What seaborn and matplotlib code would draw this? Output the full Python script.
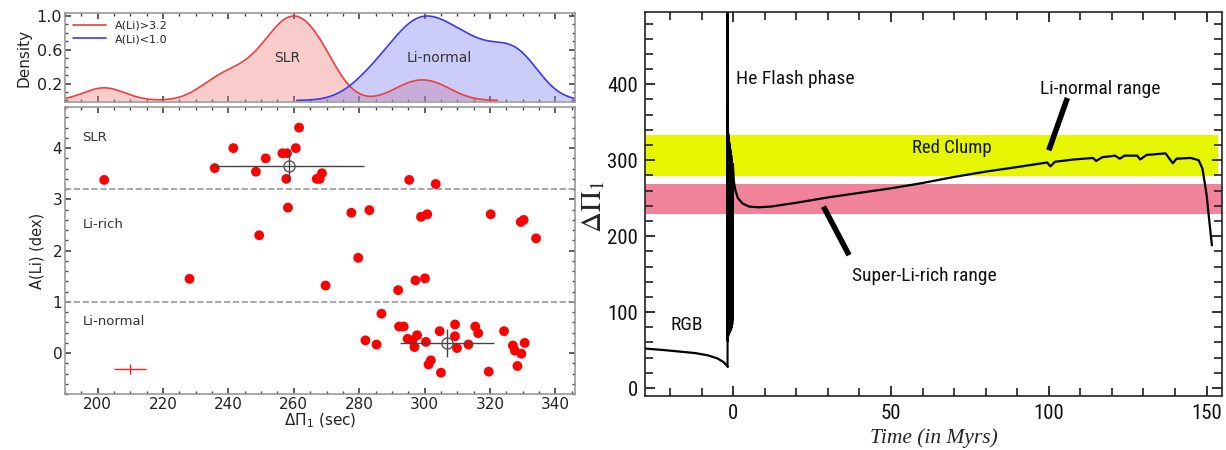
import numpy as np
import matplotlib
matplotlib.use("Agg")
import matplotlib.pyplot as plt
import seaborn as sns
from matplotlib.ticker import MultipleLocator

# ---- left panel data: Delta Pi_1 (sec) vs A(Li) (dex) ----
slr_dp = [202.0, 235.8, 241.5, 248.4, 251.4, 256.5, 257.9, 257.7, 260.6, 261.6,
          267.0, 267.9, 268.6, 295.3, 303.4]
slr_ali = [3.38, 3.61, 4.00, 3.54, 3.80, 3.90, 3.90, 3.40, 4.00, 4.40,
           3.40, 3.40, 3.51, 3.38, 3.30]
rich_dp = [258.2, 249.4, 228.1, 269.7, 277.6, 283.1, 279.7, 298.9, 300.8, 297.2,
           300.1, 291.9, 320.2, 329.4, 330.3, 334.1]
rich_ali = [2.84, 2.30, 1.45, 1.32, 2.74, 2.79, 1.86, 2.66, 2.71, 1.42,
            1.46, 1.23, 2.71, 2.56, 2.60, 2.24]
norm_dp = [286.8, 281.9, 285.3, 292.2, 293.6, 294.8, 297.7, 296.9, 296.3, 300.4,
           301.9, 301.2, 304.6, 305.0, 309.3, 309.3, 309.9, 313.4, 315.5, 316.4,
           319.6, 324.3, 327.0, 327.6, 328.4, 329.6, 330.6]
norm_ali = [0.77, 0.25, 0.17, 0.52, 0.52, 0.28, 0.35, 0.12, 0.25, 0.22,
            -0.14, -0.22, 0.43, -0.38, 0.56, 0.33, 0.10, 0.17, 0.52, 0.39,
            -0.36, 0.43, 0.15, 0.05, -0.25, -0.01, 0.20]

mean_dp = [258.5, 306.9]
mean_ali = [3.66, 0.20]
mean_dp_err = [23.0, 14.3]
mean_ali_err = [0.30, 0.28]

typ_dp, typ_ali = [210.0], [-0.31]
typ_dp_err, typ_ali_err = [4.9], [0.10]

# ---- right panel data: period spacing along the evolution track ----
rgb_t = [-28, -22, -17, -12, -8, -5, -3, -1.7]
rgb_p = [52, 50, 48, 46, 43, 39, 34, 28]
flash_t = [-1.8, -1.8, -1.74, -1.68, -1.62, -1.56, -1.5, -1.44, -1.38, -1.32, -1.26,
           -1.2, -1.14, -1.08, -1.02, -0.96, -0.9, -0.84, -0.78, -0.72, -0.66, -0.6,
           -0.54, -0.48, -0.42, -0.36, -0.3, -0.24, -0.18, -0.12]
flash_p = [28, 530, 62, 372, 68, 335, 70, 330, 72, 325, 72, 322, 74, 318, 74,
           315, 76, 312, 76, 310, 78, 306, 80, 300, 82, 296, 84, 290, 90, 295]
core_t = [-0.12, 0.2, 0.7, 1.5, 3, 5, 8, 12, 20, 30, 40, 50, 60, 70, 80, 90,
          99.5, 100.5, 102, 108, 114, 115, 117, 121, 122.5, 124, 128, 129, 131,
          137, 139.3, 140.5, 145, 147.5, 148.7, 150, 151, 151.7]
core_p = [295, 272, 260, 250, 243, 239, 238, 239, 244, 251, 257, 263, 270, 278,
          285, 291, 297, 292, 298, 301, 303, 299, 304, 306, 302, 306, 306, 301,
          307, 309, 296, 302, 303, 300, 289, 255, 215, 188]

red_clump = (279.5, 333.0)
super_li = (229.0, 269.0)


def peak_kde(vals, bw):
    vals = np.asarray(vals)
    grid = np.linspace(vals.min() - 3 * bw, vals.max() + 3 * bw, 500)
    dens = np.exp(-0.5 * ((grid[:, None] - vals[None, :]) / bw) ** 2).sum(axis=1)
    return grid, dens / dens.max()


sns.set_theme(style="ticks")
plt.rcParams["font.family"] = ["DejaVu Sans"]

fig = plt.figure(figsize=(12.26, 4.5), dpi=100)
ax_d = fig.add_axes([0.053, 0.773, 0.416, 0.198])
ax_s = fig.add_axes([0.053, 0.124, 0.416, 0.638])
ax_r = fig.add_axes([0.526, 0.12, 0.471, 0.853])

# ---- density panel ----
red_line = "#e8403f"
blue_line = "#3a3ae8"
gx, gy = peak_kde([d for d, a in zip(slr_dp, slr_ali) if a > 3.2], 6.3)
bx, by = peak_kde(norm_dp, 7.0)
sns.lineplot(x=gx, y=gy, ax=ax_d, color=red_line, lw=1.2, label="A(Li)>3.2")
ax_d.fill_between(gx, gy, color="#f08080", alpha=0.4, lw=0)
sns.lineplot(x=bx, y=by, ax=ax_d, color=blue_line, lw=1.2, label="A(Li)<1.0")
ax_d.fill_between(bx, by, color="#8080f0", alpha=0.4, lw=0)
ax_d.text(258, 0.5, "SLR", ha="center", va="center", fontsize=10, color="#333")
ax_d.text(304.5, 0.5, "Li-normal", ha="center", va="center", fontsize=10, color="#333")
ax_d.set_xlim(190, 346)
ax_d.set_ylim(-0.02, 1.035)
ax_d.set_yticks([0.2, 0.6, 1.0])
ax_d.yaxis.set_minor_locator(MultipleLocator(0.1))
ax_d.set_ylabel("Density", fontsize=11, color="#222", labelpad=4)
ax_d.set_xlabel("")
ax_d.tick_params(labelbottom=False)
ax_d.legend(loc="upper left", frameon=False, fontsize=8, handlelength=3,
            borderaxespad=0.3, labelspacing=0.3)

# ---- scatter panel ----
for dp, ali in [(slr_dp, slr_ali), (rich_dp, rich_ali), (norm_dp, norm_ali)]:
    sns.scatterplot(x=dp, y=ali, ax=ax_s, color="#ff0000", s=50, edgecolor="none", zorder=3)
ax_s.errorbar(mean_dp, mean_ali, xerr=mean_dp_err, yerr=mean_ali_err, fmt="o",
              mfc="none", mec="#555", ms=8, ecolor="#444", elinewidth=1, capsize=0, zorder=4)
ax_s.errorbar(typ_dp, typ_ali, xerr=typ_dp_err, yerr=typ_ali_err, fmt="none",
              ecolor="#ff2020", elinewidth=1, capsize=0)
for yv in [3.2, 1.0]:
    ax_s.axhline(yv, color="#999", ls="--", lw=1.2, zorder=1)
for yv, txt in [(4.21, "SLR"), (2.51, "Li-rich"), (0.62, "Li-normal")]:
    ax_s.text(195.3, yv, txt, fontsize=9.5, color="#333", va="center")
ax_s.set_xlim(190, 346)
ax_s.set_ylim(-0.8, 4.8)
ax_s.yaxis.set_major_locator(MultipleLocator(1))
ax_s.yaxis.set_minor_locator(MultipleLocator(0.2))
ax_s.set_xlabel(r"$\Delta\Pi_1$ (sec)", fontsize=11, color="#222", labelpad=0)
ax_s.set_ylabel("A(Li) (dex)", fontsize=10.5, color="#222", labelpad=6)

for ax in (ax_d, ax_s):
    ax.xaxis.set_minor_locator(MultipleLocator(5))
    ax.xaxis.set_major_locator(MultipleLocator(20))
    for sp in ax.spines.values():
        sp.set_color("#999")
        sp.set_linewidth(1.2)
        sp.set_visible(True)
    ax.tick_params(which="both", direction="in", top=True, right=True,
                   color="#444", labelsize=11, labelcolor="#222", pad=2)
    ax.tick_params(which="major", length=4, width=1.2)
    ax.tick_params(which="minor", length=2, width=1)
ax_d.tick_params(axis="y", labelsize=11.5)

# ---- evolution panel ----
narrow = ["Roboto Condensed", "Liberation Sans Narrow", "Liberation Sans"]
ax_r.axhspan(*red_clump, xmin=0, xmax=0.993, color="#e6f500", lw=0, zorder=0)
ax_r.axhspan(*super_li, color="#f08399", lw=0, zorder=0)
sns.lineplot(x=rgb_t, y=rgb_p, ax=ax_r, color="black", lw=1.6, sort=False, estimator=None)
sns.lineplot(x=flash_t, y=flash_p, ax=ax_r, color="black", lw=1.5, sort=False, estimator=None)
sns.lineplot(x=core_t, y=core_p, ax=ax_r, color="black", lw=1.6, sort=False, estimator=None)
ax_r.plot([105.9, 100.0], [382, 313], color="black", lw=4, solid_capstyle="butt")
ax_r.plot([28.6, 36.7], [239, 175], color="black", lw=4, solid_capstyle="butt")

tkw = dict(family=narrow, fontstretch="condensed", va="center", color="#111")
ax_r.text(0.9, 407, "He Flash phase", fontsize=14, **tkw)
ax_r.text(97.1, 394, "Li-normal range", fontsize=14, **tkw)
ax_r.text(69.4, 316, "Red Clump", fontsize=13.5, ha="center", **tkw)
ax_r.text(60.6, 148, "Super-Li-rich range", fontsize=14, ha="center", **tkw)
ax_r.text(-14.8, 83, "RGB", fontsize=14, ha="center", **tkw)

ax_r.set_xlim(-28, 155)
ax_r.set_ylim(-10.5, 495)
ax_r.xaxis.set_major_locator(MultipleLocator(50))
ax_r.xaxis.set_minor_locator(MultipleLocator(10))
ax_r.yaxis.set_major_locator(MultipleLocator(100))
ax_r.yaxis.set_minor_locator(MultipleLocator(20))
ax_r.set_yticks([0, 100, 200, 300, 400])
for sp in ax_r.spines.values():
    sp.set_visible(True)
    sp.set_color("#222")
    sp.set_linewidth(1.2)
ax_r.tick_params(which="both", direction="in", top=True, right=True, color="#222",
                 labelsize=15, labelcolor="#111")
ax_r.tick_params(axis="x", pad=6)
ax_r.tick_params(axis="y", pad=5)
ax_r.tick_params(which="major", length=7, width=1.3)
ax_r.tick_params(which="minor", length=5.5, width=1.2)
for lab in ax_r.get_xticklabels() + ax_r.get_yticklabels():
    lab.set_family(narrow)
    lab.set_stretch("condensed")
ax_r.set_xlabel("Time (in Myrs)", fontsize=15.5, family="Liberation Serif",
                style="italic")
ax_r.xaxis.set_label_coords(0.5, -0.083)
ax_r.set_ylabel("")
fig.text(0.484, 0.54, r"$\Delta\Pi_1$", rotation=90, fontsize=21, ha="center",
         va="center", math_fontfamily="stix")

fig.savefig("out.png", dpi=100)
